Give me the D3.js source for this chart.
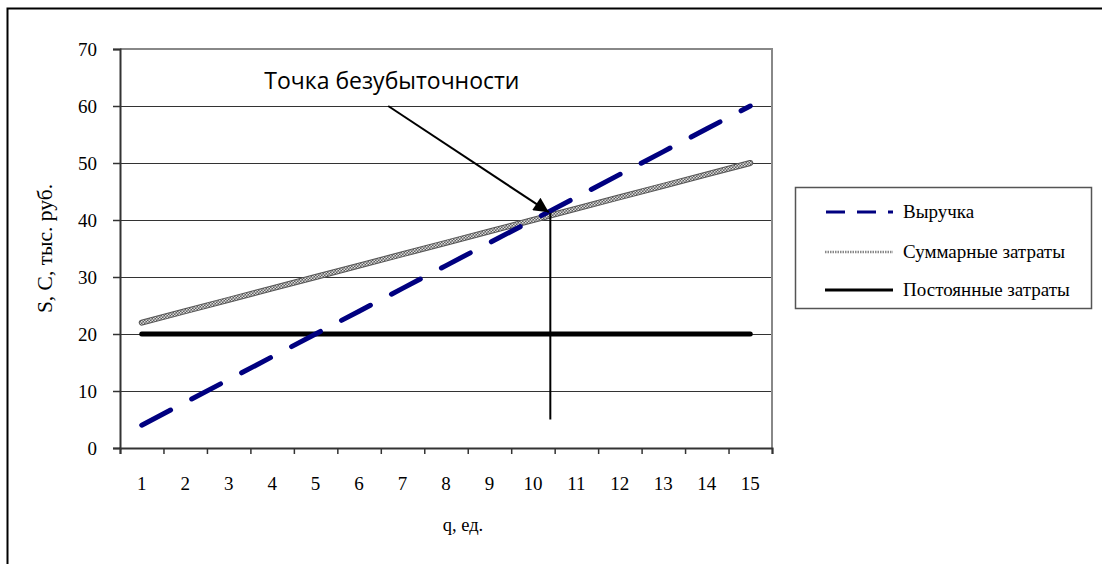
<!DOCTYPE html>
<html>
<head>
<meta charset="utf-8">
<script src="https://cdn.jsdelivr.net/npm/d3@7"></script>
<style>
  html, body { margin: 0; padding: 0; background: #fff; }
  svg { display: block; }
</style>
</head>
<body>
<svg id="chart" width="1102" height="564"></svg>
<script>
// Output volume q, units
const quantities = [1, 2, 3, 4, 5, 6, 7, 8, 9, 10, 11, 12, 13, 14, 15];
// Revenue S, thousand rubles
const revenue = [4, 8, 12, 16, 20, 24, 28, 32, 36, 40, 44, 48, 52, 56, 60];
// Total costs C, thousand rubles
const totalCosts = [22, 24, 26, 28, 30, 32, 34, 36, 38, 40, 42, 44, 46, 48, 50];
// Fixed costs, thousand rubles
const fixedCosts = [20, 20, 20, 20, 20, 20, 20, 20, 20, 20, 20, 20, 20, 20, 20];
const yTicks = [0, 10, 20, 30, 40, 50, 60, 70];
const seriesNames = ["Выручка", "Суммарные затраты", "Постоянные затраты"];
// Break-even callout (hand-placed marker, in data units)
const breakEvenMarker = { q: 10.4, top: 41.2, bottom: 5 };
const calloutStart = { q: 6.67, value: 60 };
const calloutText = { q: 3.82, value: 63, label: "Точка безубыточности" };

const serif = "'Liberation Serif', 'Times New Roman', serif";
const svg = d3.select("#chart");
const plot = { left: 120, right: 772, top: 49, bottom: 448 };

const x = d3.scaleLinear().domain([0.5, 15.5]).range([plot.left, plot.right]);
const y = d3.scaleLinear().domain([0, 70]).range([plot.bottom, plot.top]);

const defs = svg.append("defs");
// checkered texture for the total-cost line
const pat = defs.append("pattern")
  .attr("id", "checker").attr("patternUnits", "userSpaceOnUse")
  .attr("width", 3).attr("height", 3);
pat.append("rect").attr("width", 3).attr("height", 3).attr("fill", "#5e5e5e");
pat.append("rect").attr("x", 0).attr("y", 0).attr("width", 1.5).attr("height", 1.5).attr("fill", "#dcdcdc");
pat.append("rect").attr("x", 1.5).attr("y", 1.5).attr("width", 1.5).attr("height", 1.5).attr("fill", "#dcdcdc");

defs.append("marker")
  .attr("id", "arrowHead").attr("viewBox", "0 0 10 10")
  .attr("refX", 10).attr("refY", 5)
  .attr("markerWidth", 17).attr("markerHeight", 15)
  .attr("markerUnits", "userSpaceOnUse")
  .attr("orient", "auto")
  .append("path").attr("d", "M0,0 L10,5 L0,10 Z").attr("fill", "#000");

// outer frame
svg.append("rect")
  .attr("x", 7.5).attr("y", 8.5).attr("width", 1120).attr("height", 600)
  .attr("fill", "none").attr("stroke", "#000").attr("stroke-width", 2);

// gridlines
svg.append("g").selectAll("line")
  .data(yTicks.filter(v => v > 0 && v < 70))
  .join("line")
  .attr("x1", plot.left).attr("x2", plot.right)
  .attr("y1", d => Math.round(y(d)) + 0.5).attr("y2", d => Math.round(y(d)) + 0.5)
  .attr("stroke", "#333").attr("stroke-width", 1);

// plot area top/right border
svg.append("path")
  .attr("d", `M${plot.left},${y(70)} H${plot.right} V${plot.bottom}`)
  .attr("fill", "none").attr("stroke", "#888").attr("stroke-width", 2);

// y axis
const yAxis = svg.append("g")
  .attr("transform", `translate(${plot.left},0)`)
  .call(d3.axisLeft(y).tickValues(yTicks).tickSize(7).tickPadding(16).tickFormat(d3.format("d")));
yAxis.attr("font-family", serif).attr("font-size", 19);
yAxis.select(".domain").attr("stroke", "#333").attr("stroke-width", 2);
yAxis.selectAll(".tick line").attr("stroke", "#333").attr("stroke-width", 1.5);
yAxis.selectAll("text").attr("fill", "#000");

// x axis: ticks between categories
const boundaries = d3.range(0.5, 16, 1);
const xAxis = svg.append("g")
  .attr("transform", `translate(0,${plot.bottom})`)
  .call(d3.axisBottom(x).tickValues(boundaries).tickSize(6).tickFormat(""));
xAxis.select(".domain").attr("stroke", "#333").attr("stroke-width", 2);
xAxis.selectAll(".tick line").attr("stroke", "#333").attr("stroke-width", 1.5);

svg.append("g")
  .attr("font-family", serif).attr("font-size", 19)
  .selectAll("text")
  .data(quantities)
  .join("text")
  .attr("x", d => x(d)).attr("y", 490)
  .attr("text-anchor", "middle")
  .text(d => d);

// axis titles
svg.append("text")
  .attr("transform", `translate(52,${(plot.top + plot.bottom) / 2}) rotate(-90)`)
  .attr("text-anchor", "middle")
  .attr("font-family", serif)
  .attr("font-size", 21.5)
  .text("S, C, тыс. руб.");
svg.append("text")
  .attr("x", 463).attr("y", 531)
  .attr("text-anchor", "middle")
  .attr("font-family", serif)
  .attr("font-size", 18.5)
  .text("q, ед.");

// series
const line = vals => d3.line().x((d, i) => x(quantities[i])).y(d => y(d))(vals);

svg.append("path").attr("d", line(fixedCosts))
  .attr("fill", "none").attr("stroke", "#000").attr("stroke-width", 5)
  .attr("stroke-linecap", "round");

svg.append("path").attr("d", line(totalCosts))
  .attr("fill", "none").attr("stroke", "#555").attr("stroke-width", 6)
  .attr("stroke-linecap", "round");
svg.append("path").attr("d", line(totalCosts))
  .attr("fill", "none").attr("stroke", "url(#checker)").attr("stroke-width", 4)
  .attr("stroke-linecap", "round");

svg.append("path").attr("d", line(revenue))
  .attr("fill", "none").attr("stroke", "#000080").attr("stroke-width", 5)
  .attr("stroke-linecap", "round")
  .attr("stroke-dasharray", "32.6,23.8");

// break-even callout
svg.append("line")
  .attr("x1", x(breakEvenMarker.q)).attr("x2", x(breakEvenMarker.q))
  .attr("y1", y(breakEvenMarker.top)).attr("y2", y(breakEvenMarker.bottom))
  .attr("stroke", "#000").attr("stroke-width", 2);
svg.append("line")
  .attr("x1", x(calloutStart.q)).attr("y1", y(calloutStart.value))
  .attr("x2", x(breakEvenMarker.q) - 1.5).attr("y2", y(breakEvenMarker.top) - 1)
  .attr("stroke", "#000").attr("stroke-width", 2)
  .attr("marker-end", "url(#arrowHead)");
svg.append("text")
  .attr("x", x(calloutText.q)).attr("y", y(calloutText.value))
  .attr("font-family", "'Open Sans', 'Liberation Sans', sans-serif")
  .attr("font-size", 23)
  .text(calloutText.label);

// legend
const lg = svg.append("g");
lg.append("rect")
  .attr("x", 795.5).attr("y", 187.5).attr("width", 296).attr("height", 121)
  .attr("fill", "#fff").attr("stroke", "#555").attr("stroke-width", 1.5);
const rows = [212, 252, 290];
lg.append("line").attr("x1", 826).attr("x2", 893).attr("y1", rows[0]).attr("y2", rows[0])
  .attr("stroke", "#000080").attr("stroke-width", 3).attr("stroke-dasharray", "19,12");
lg.append("line").attr("x1", 825).attr("x2", 893).attr("y1", rows[1]).attr("y2", rows[1])
  .attr("stroke", "#888").attr("stroke-width", 2.5).attr("stroke-dasharray", "1.5,1");
lg.append("line").attr("x1", 825).attr("x2", 893).attr("y1", rows[2]).attr("y2", rows[2])
  .attr("stroke", "#000").attr("stroke-width", 3);
lg.append("g")
  .attr("font-family", serif).attr("font-size", 19)
  .selectAll("text")
  .data(seriesNames)
  .join("text")
  .attr("x", 903).attr("y", (d, i) => rows[i] + 6)
  .text(d => d);
</script>
</body>
</html>
